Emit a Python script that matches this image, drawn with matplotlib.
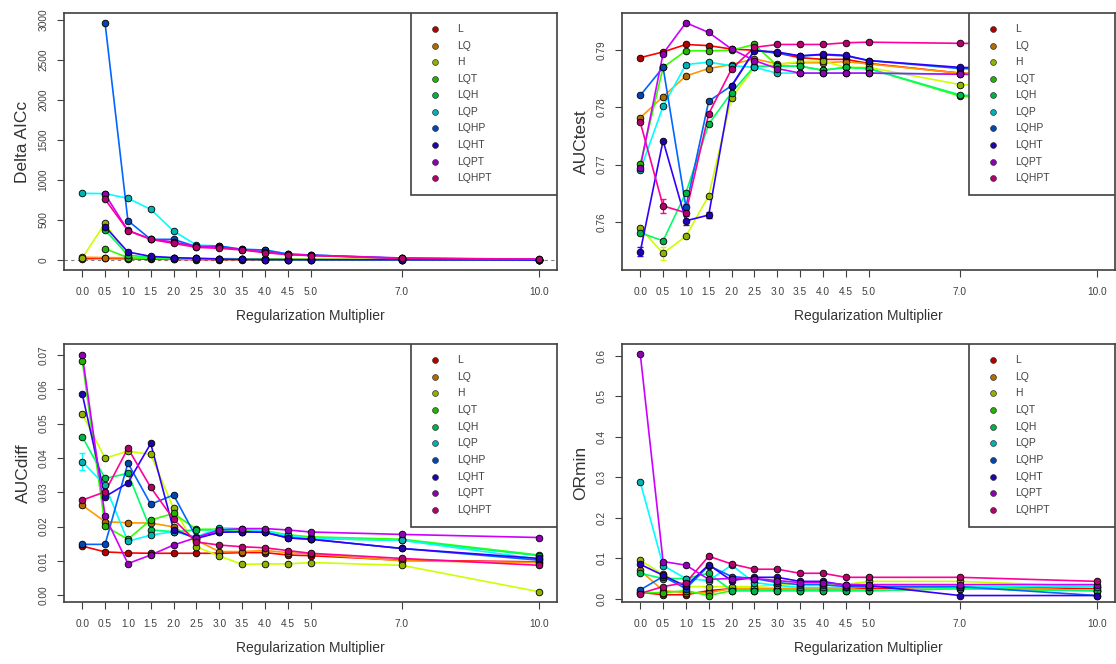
import numpy as np
import matplotlib
matplotlib.use("Agg")
import matplotlib.pyplot as plt
from matplotlib.patches import Rectangle
from matplotlib.colors import to_rgb

plt.rcParams["font.family"] = ["Liberation Sans", "DejaVu Sans"]

# ── data ─────────────────────────────────────────────────────────────
MODELS = ["L", "LQ", "H", "LQT", "LQH", "LQP", "LQHP", "LQHT", "LQPT", "LQHPT"]
COLORS = ["#FF0000", "#FF9900", "#CCFF00", "#33FF00", "#00FF66",
          "#00FFFF", "#0066FF", "#3300FF", "#CC00FF", "#FF0099"]
REG = [0.0, 0.5, 1.0, 1.5, 2.0, 2.5, 3.0, 3.5, 4.0, 4.5, 5.0, 7.0, 10.0]
REG_LABELS = ["0.0", "0.5", "1.0", "1.5", "2.0", "2.5", "3.0", "3.5",
              "4.0", "4.5", "5.0", "7.0", "10.0"]
nan = np.nan

AICC = {
    "L":     [15, 20, 15, 10, 8, 5, 5, 3, 3, 2, 2, 1, 0],
    "LQ":    [35, 30, 28, 25, 22, 20, 18, 15, 15, 12, 10, 8, 5],
    "H":     [25, 460, 40, 30, 25, 20, 15, 12, 10, 8, 8, 5, 3],
    "LQT":   [nan, 140, 30, 20, 15, 12, 10, 8, 6, 5, 4, 2, 1],
    "LQH":   [nan, 375, 60, 35, 25, 18, 12, 10, 8, 5, 5, 3, 1],
    "LQP":   [833, 830, 771, 633, 362, 187, 175, 133, 125, 75, 62, 22, 6],
    "LQHP":  [nan, 2960, 492, 258, 258, 167, 175, 133, 125, 75, 62, 20, 5],
    "LQHT":  [nan, 417, 100, 45, 30, 20, 12, 8, 6, 4, 3, 2, 0],
    "LQPT":  [nan, 820, 370, 262, 225, 170, 160, 130, 100, 70, 60, 25, 10],
    "LQHPT": [nan, 758, 367, 258, 208, 158, 146, 125, 92, 67, 55, 20, 10],
}
AICC_TICKS = [0, 500, 1000, 1500, 2000, 2500, 3000]

AUCTEST = {
    "L":     [0.7887, 0.7897, 0.7910, 0.7908, 0.7902, 0.7900, 0.7895, 0.7887, 0.7884, 0.7884, 0.7877, 0.7860, 0.7850],
    "LQ":    [0.7782, 0.7819, 0.7855, 0.7868, 0.7875, 0.7885, 0.7876, 0.7878, 0.7878, 0.7880, 0.7876, 0.7860, 0.7852],
    "H":     [0.7589, 0.7545, 0.7575, 0.7646, 0.7817, 0.7870, 0.7875, 0.7880, 0.7881, 0.7870, 0.7870, 0.7840, 0.7830],
    "LQT":   [0.7701, 0.7870, 0.7899, 0.7899, 0.7900, 0.7910, 0.7873, 0.7872, 0.7865, 0.7870, 0.7868, 0.7820, 0.7800],
    "LQH":   [0.7581, 0.7567, 0.7651, 0.7771, 0.7826, 0.7872, 0.7872, 0.7872, 0.7865, 0.7870, 0.7868, 0.7822, 0.7805],
    "LQP":   [0.7690, 0.7802, 0.7875, 0.7879, 0.7873, 0.7870, 0.7860, 0.7860, 0.7860, 0.7860, 0.7860, 0.7858, 0.7855],
    "LQHP":  [0.7821, 0.7870, 0.7626, 0.7811, 0.7838, 0.7900, 0.7895, 0.7890, 0.7892, 0.7890, 0.7882, 0.7868, 0.7862],
    "LQHT":  [0.7548, 0.7742, 0.7602, 0.7612, 0.7837, 0.7899, 0.7897, 0.7890, 0.7893, 0.7891, 0.7882, 0.7870, 0.7865],
    "LQPT":  [0.7695, 0.7894, 0.7948, 0.7931, 0.7902, 0.7882, 0.7868, 0.7860, 0.7860, 0.7860, 0.7860, 0.7858, 0.7855],
    "LQHPT": [0.7774, 0.7628, 0.7616, 0.7789, 0.7867, 0.7905, 0.7910, 0.7910, 0.7910, 0.7913, 0.7914, 0.7912, 0.7910],
}
AUCTEST_TICKS = [0.76, 0.77, 0.78, 0.79]
# (model, reg multiplier, sd) - only the error bars that show
AUCTEST_SD = [("LQHT", 0.0, 0.0008), ("H", 0.5, 0.0012), ("LQHPT", 0.5, 0.0012),
              ("LQHT", 1.0, 0.0008), ("LQHT", 1.5, 0.0005), ("LQHP", 1.0, 0.0006)]

AUCDIFF = {
    "L":     [0.0143, 0.0126, 0.0123, 0.0122, 0.0122, 0.0122, 0.0122, 0.0124, 0.0124, 0.0117, 0.0115, 0.0102, 0.0097],
    "LQ":    [0.0262, 0.0214, 0.0211, 0.0210, 0.0199, 0.0160, 0.0127, 0.0127, 0.0130, 0.0124, 0.0120, 0.0100, 0.0095],
    "H":     [0.0528, 0.0399, 0.0420, 0.0410, 0.0253, 0.0141, 0.0114, 0.0090, 0.0091, 0.0091, 0.0095, 0.0087, 0.0010],
    "LQT":   [0.0683, 0.0201, 0.0163, 0.0219, 0.0238, 0.0192, 0.0192, 0.0190, 0.0188, 0.0176, 0.0170, 0.0163, 0.0117],
    "LQH":   [0.0462, 0.0340, 0.0355, 0.0190, 0.0185, 0.0190, 0.0190, 0.0185, 0.0185, 0.0172, 0.0165, 0.0160, 0.0115],
    "LQP":   [0.0389, 0.0320, 0.0157, 0.0175, 0.0185, 0.0170, 0.0196, 0.0194, 0.0186, 0.0174, 0.0165, 0.0160, 0.0105],
    "LQHP":  [0.0148, 0.0148, 0.0385, 0.0265, 0.0292, 0.0168, 0.0183, 0.0185, 0.0183, 0.0167, 0.0163, 0.0136, 0.0102],
    "LQHT":  [0.0586, 0.0287, 0.0327, 0.0442, 0.0191, 0.0165, 0.0183, 0.0185, 0.0183, 0.0167, 0.0163, 0.0136, 0.0107],
    "LQPT":  [0.0700, 0.0230, 0.0092, 0.0117, 0.0146, 0.0168, 0.0190, 0.0194, 0.0194, 0.0190, 0.0184, 0.0177, 0.0168],
    "LQHPT": [0.0277, 0.0301, 0.0428, 0.0314, 0.0221, 0.0155, 0.0146, 0.0141, 0.0138, 0.0130, 0.0122, 0.0107, 0.0087],
}
AUCDIFF_TICKS = [0.00, 0.01, 0.02, 0.03, 0.04, 0.05, 0.06, 0.07]
AUCDIFF_SD = [("LQP", 0.0, 0.0024)]

ORMIN = {
    "L":     [0.016, 0.010, 0.010, 0.020, 0.025, 0.025, 0.025, 0.025, 0.025, 0.025, 0.025, 0.030, 0.025],
    "LQ":    [0.070, 0.020, 0.015, 0.015, 0.025, 0.025, 0.025, 0.025, 0.025, 0.025, 0.030, 0.030, 0.020],
    "H":     [0.095, 0.060, 0.030, 0.030, 0.030, 0.030, 0.035, 0.035, 0.035, 0.035, 0.043, 0.043, 0.030],
    "LQT":   [0.015, 0.015, 0.020, 0.008, 0.020, 0.020, 0.020, 0.020, 0.020, 0.020, 0.020, 0.025, 0.020],
    "LQH":   [0.063, 0.050, 0.050, 0.063, 0.020, 0.020, 0.020, 0.020, 0.020, 0.020, 0.020, 0.025, 0.020],
    "LQP":   [0.288, 0.082, 0.050, 0.045, 0.083, 0.040, 0.033, 0.028, 0.028, 0.028, 0.030, 0.030, 0.030],
    "LQHP":  [0.022, 0.055, 0.025, 0.082, 0.055, 0.050, 0.040, 0.035, 0.035, 0.030, 0.030, 0.030, 0.008],
    "LQHT":  [0.085, 0.058, 0.031, 0.084, 0.045, 0.053, 0.053, 0.043, 0.043, 0.033, 0.033, 0.008, 0.008],
    "LQPT":  [0.605, 0.092, 0.083, 0.048, 0.050, 0.050, 0.045, 0.040, 0.040, 0.035, 0.035, 0.035, 0.035],
    "LQHPT": [0.013, 0.030, 0.040, 0.105, 0.086, 0.073, 0.073, 0.063, 0.063, 0.053, 0.053, 0.053, 0.043],
}
ORMIN_TICKS = [0.0, 0.1, 0.2, 0.3, 0.4, 0.5, 0.6]

# ── layout (pixels) ──────────────────────────────────────────────────
W, H = 1116, 664
fig = plt.figure(figsize=(W / 100, H / 100), dpi=100)


def px_axes(x0, y0, x1, y1):
    return fig.add_axes([x0 / W, 1 - y1 / H, (x1 - x0) / W, (y1 - y0) / H])


def dark(c, f=0.7):
    r, g, b = to_rgb(c)
    return (r * f, g * f, b * f)


def panel(ax, data, ylabel, yticks, fmt, ylim, sd=(), zero_line=False):
    if zero_line:
        ax.axhline(0, color="0.5", ls=(0, (3, 3)), lw=0.8, zorder=1)
    for m, c in zip(MODELS, COLORS):
        y = np.array(data[m], float)
        ax.plot(REG, y, color=c, lw=1.2, zorder=2)
        for mm, xv, s in sd:
            if mm == m:
                ax.errorbar([xv], [y[REG.index(xv)]], yerr=[s], fmt="none",
                            ecolor=c, elinewidth=1.0, capsize=2.5, zorder=2)
        ax.plot(REG, y, ls="none", marker="o", ms=4.8, mfc=dark(c),
                mec="black", mew=0.6, zorder=3)

    ax.set_xlim(-0.4, 10.4)
    ax.set_ylim(*ylim)
    ax.set_xticks(REG)
    ax.set_xticklabels(REG_LABELS)
    ax.set_yticks(yticks)
    ax.set_yticklabels([fmt.format(t) for t in yticks], rotation=90, va="center")
    ax.tick_params(axis="both", direction="out", length=5, width=0.8,
                   labelsize=7.3, color="0.25", labelcolor="0.25")
    ax.tick_params(axis="x", pad=7)
    ax.tick_params(axis="y", pad=6)
    for s in ax.spines.values():
        s.set_color("0.25")
        s.set_linewidth(1.2)

    ax.set_xlabel("Regularization Multiplier", fontsize=10, color="0.2")
    ax.xaxis.set_label_coords(0.5, -0.15)
    ax.set_ylabel(ylabel, fontsize=12.5, color="0.2")
    ax.yaxis.set_label_coords(-0.068, 0.5)

    # legend box (white, hides the lines underneath as in R)
    ax.add_patch(Rectangle((0.703, 0.292), 0.297, 0.708, transform=ax.transAxes,
                           fc="white", ec="0.25", lw=1.2, zorder=5))
    for i, (m, c) in enumerate(zip(MODELS, COLORS)):
        ly = 0.937 - i * 0.0644
        ax.plot([0.753], [ly], transform=ax.transAxes, ls="none", marker="o",
                ms=4.2, mfc=dark(c), mec="0.2", mew=0.5, zorder=6, clip_on=False)
        ax.text(0.797, ly, m, transform=ax.transAxes, fontsize=7.5, color="0.25",
                va="center", ha="left", zorder=6)


ax1 = px_axes(64, 13, 557, 270)
ax2 = px_axes(622, 13, 1115, 270)
ax3 = px_axes(64, 344, 557, 602)
ax4 = px_axes(622, 344, 1115, 602)

panel(ax1, AICC, "Delta AICc", AICC_TICKS, "{:.0f}", (-125, 3087), zero_line=True)
panel(ax2, AUCTEST, "AUCtest", AUCTEST_TICKS, "{:.2f}", (0.7516, 0.7965), sd=AUCTEST_SD)
panel(ax3, AUCDIFF, "AUCdiff", AUCDIFF_TICKS, "{:.2f}", (-0.002, 0.0732), sd=AUCDIFF_SD)
panel(ax4, ORMIN, "ORmin", ORMIN_TICKS, "{:.1f}", (-0.008, 0.6295))

fig.savefig("out.png", dpi=100)
